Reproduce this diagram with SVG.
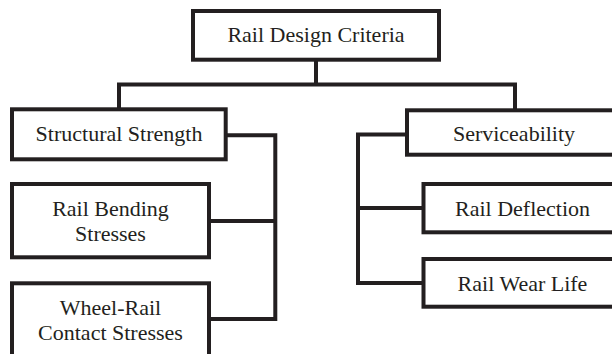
<svg xmlns="http://www.w3.org/2000/svg" width="612" height="354" viewBox="0 0 612 354">
<style>
.box{fill:#fff;stroke:#231f20;stroke-width:4}
.c{fill:none;stroke:#231f20;stroke-width:4;stroke-linecap:square}
.t{font-family:'Liberation Serif','Times New Roman',Tinos,'DejaVu Serif',serif;font-size:22px;fill:#231f20;text-anchor:middle}
</style>
<rect width="612" height="354" fill="#fff"/>
<g id="connectors">
<path class="c" d="M316,60 V84.5 M119,84.5 H515 M119,84.5 V109 M515,84.5 V110"/>
<path class="c" d="M226,135.3 H275.3 V319 H209 M209,221 H275.3"/>
<path class="c" d="M407,134.5 H358 V283 H423.5 M358,208 H423.5"/>
</g>
<g id="root"><rect class="box" x="193" y="11" width="246" height="48.7"/><text class="t" x="316" y="42">Rail Design Criteria</text></g>
<g id="structural"><rect class="box" x="12" y="109.3" width="213.7" height="50"/><text class="t" x="119" y="141">Structural Strength</text></g>
<g id="bending"><rect class="box" x="12" y="184" width="197" height="73.3"/><text class="t" x="110.5" y="216.3">Rail Bending</text><text class="t" x="110.5" y="240.5">Stresses</text></g>
<g id="contact"><rect class="box" x="12" y="283.3" width="197" height="90"/><text class="t" x="110.5" y="315">Wheel-Rail</text><text class="t" x="110.5" y="340.3">Contact Stresses</text></g>
<g id="serviceability"><rect class="box" x="407" y="110.3" width="214" height="44.4"/><text class="t" x="514" y="140.7">Serviceability</text></g>
<g id="deflection"><rect class="box" x="423.5" y="184" width="200" height="48.3"/><text class="t" x="522.5" y="216">Rail Deflection</text></g>
<g id="wear"><rect class="box" x="423.5" y="259" width="200" height="47.7"/><text class="t" x="522.5" y="290.5">Rail Wear Life</text></g>
</svg>
